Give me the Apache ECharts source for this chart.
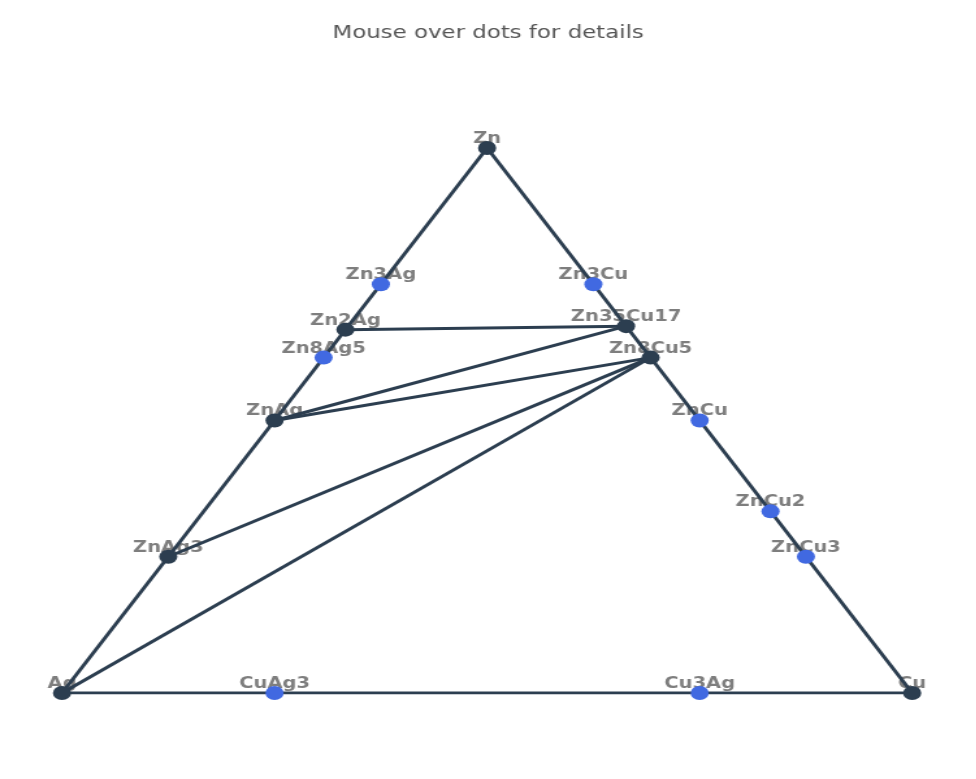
<!DOCTYPE html>
<html>
<head>
<meta charset="utf-8">
<script src="https://cdn.jsdelivr.net/npm/echarts@6/dist/echarts.min.js"></script>
<style>
  html, body { margin: 0; padding: 0; background: #fff; overflow: hidden; }
  /* the reference is stretched sideways, so draw narrow and scale x */
  #main { width: 751px; height: 779px; transform: scaleX(1.3); transform-origin: 0 0; }
</style>
</head>
<body>
<div id="main"></div>
<script>
// compounds and their atom counts
const names = ['Zn', 'Ag', 'Cu', 'Zn3Ag', 'Zn2Ag', 'Zn8Ag5', 'ZnAg', 'ZnAg3', 'CuAg3', 'Cu3Ag',
  'Zn3Cu', 'Zn35Cu17', 'Zn8Cu5', 'ZnCu', 'ZnCu2', 'ZnCu3'];
const znAtoms = [1, 0, 0, 3, 2, 8, 1, 1, 0, 0, 3, 35, 8, 1, 1, 1];
const cuAtoms = [0, 0, 1, 0, 0, 0, 0, 0, 1, 3, 1, 17, 5, 1, 2, 3];
const agAtoms = [0, 1, 0, 1, 1, 5, 1, 3, 3, 1, 0, 0, 0, 0, 0, 0];
// 1 = on the hull (dark dot), 0 = above the hull (blue dot)
const stable = [1, 1, 1, 0, 1, 0, 1, 1, 0, 0, 0, 1, 1, 0, 0, 0];
// tie lines between compounds
const tieLines = [
  ['Zn', 'Ag'], ['Ag', 'Cu'], ['Cu', 'Zn'],
  ['Zn2Ag', 'Zn35Cu17'], ['Zn35Cu17', 'ZnAg'], ['Zn8Cu5', 'ZnAg'],
  ['Zn8Cu5', 'ZnAg3'], ['Zn8Cu5', 'Ag']
];

const DARK = '#2c3e50';
const BLUE = '#4169e1';

// ternary -> cartesian: Ag (0,0), Cu (1,0), Zn (0.5,1)
function toXY(i) {
  const tot = znAtoms[i] + cuAtoms[i] + agAtoms[i];
  const z = znAtoms[i] / tot, c = cuAtoms[i] / tot;
  return [c + z / 2, z];
}

const points = names.map((n, i) => ({
  name: n,
  value: toXY(i),
  itemStyle: { color: stable[i] ? DARK : BLUE, opacity: 1 }
}));

const lineSeries = tieLines.map(pair => ({
  type: 'line',
  z: 2,
  symbol: 'none',
  silent: true,
  lineStyle: { color: DARK, width: 3 },
  data: pair.map(n => toXY(names.indexOf(n)))
}));

var chart = echarts.init(document.getElementById('main'));
var option = {
  animation: false,
  title: {
    text: 'Mouse over dots for details',
    left: 'center',
    top: 19,
    textStyle: { fontFamily: 'DejaVu Sans', fontSize: 17.6, fontWeight: 'normal', color: '#555' }
  },
  tooltip: { trigger: 'item', formatter: p => p.name },
  grid: { left: 47.7, right: 49.3, top: 148, bottom: 86 },
  xAxis: { type: 'value', min: 0, max: 1, show: false },
  yAxis: { type: 'value', min: 0, max: 1, show: false },
  series: [
    {
      // labels only, kept beneath the lines
      type: 'scatter',
      z: 1,
      silent: true,
      symbolSize: 1,
      itemStyle: { color: 'transparent' },
      label: {
        show: true,
        position: 'inside',
        offset: [0, -9],
        formatter: '{b}',
        fontFamily: 'DejaVu Sans',
        fontSize: 15,
        fontWeight: 'bold',
        color: '#5e5e5e'
      },
      data: points.map(p => ({ name: p.name, value: p.value }))
    },
    ...lineSeries,
    {
      type: 'scatter',
      z: 3,
      symbol: 'circle',
      symbolSize: 14,
      data: points
    }
  ]
};
option && chart.setOption(option);
</script>
</body>
</html>
